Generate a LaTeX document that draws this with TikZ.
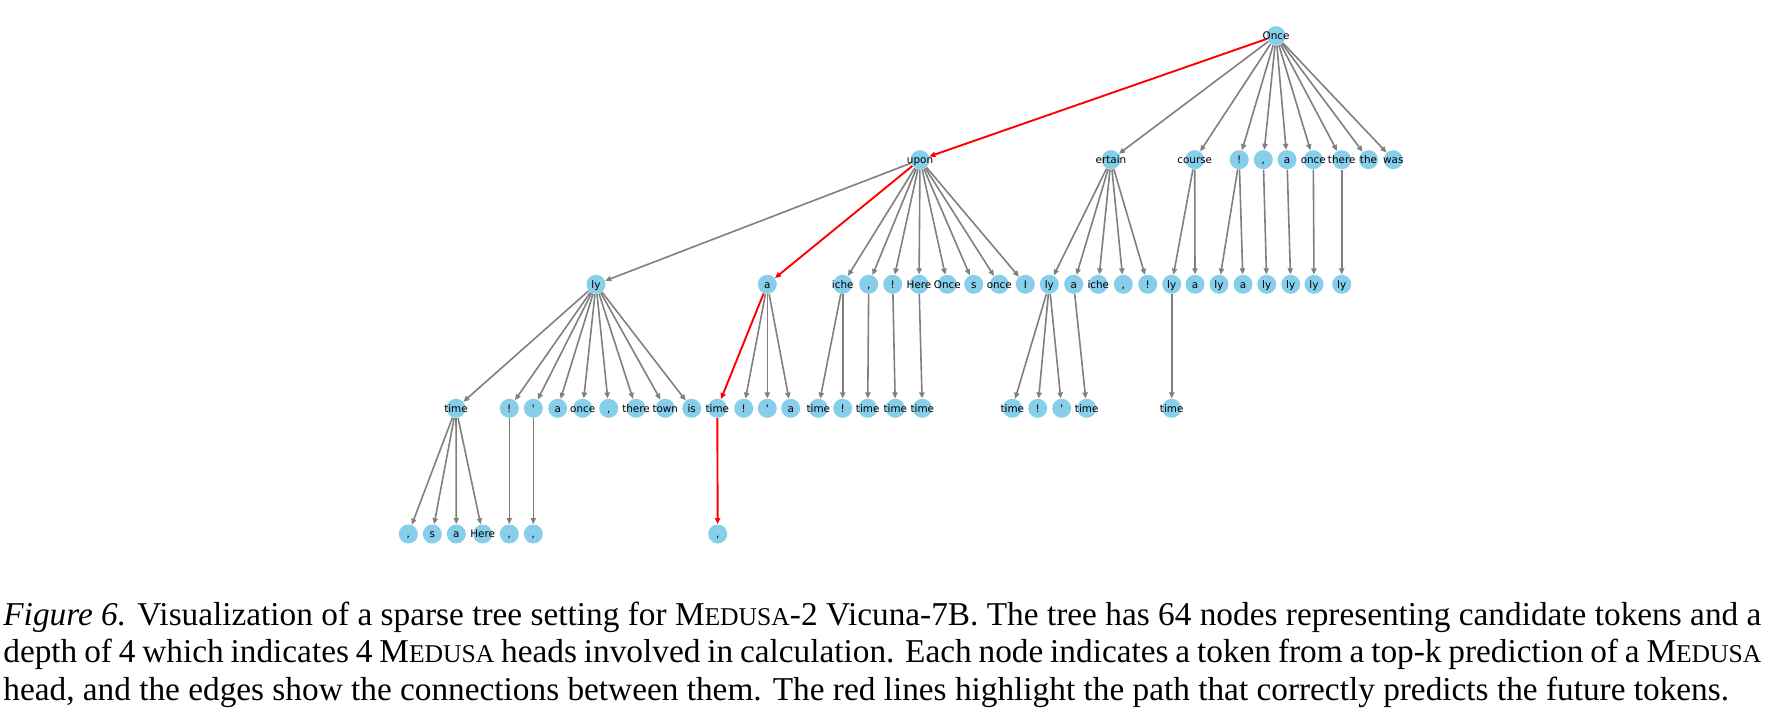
\documentclass[tikz,border=0pt]{standalone}
\usepackage{fontspec}
\setmainfont{Liberation Serif}
\newfontfamily\dv[Ligatures=TeXOff]{DejaVu Sans}
\usetikzlibrary{arrows.meta}
\definecolor{sky}{HTML}{87CEEB}
\definecolor{eg}{HTML}{808080}
\tikzset{
  tok/.style={circle,fill=sky,draw=none,minimum size=9.5pt,inner sep=0pt},
  lab/.style={font=\dv\fontsize{5.2}{6}\selectfont,inner sep=0pt,text height=3.9pt,text depth=0pt},
  conn/.style={draw=eg,line width=0.8pt,-{Triangle[length=3pt,width=2.6pt]}},
  hot/.style={conn,draw=red,line width=0.95pt},
  captxt/.style={anchor=base west,inner sep=0pt,font=\fontsize{16.65}{19}\selectfont}
}
\newcommand\medusa{M{\fontsize{12.8}{15}\selectfont EDUSA}}
\newcommand\toklist{%
\T{r}{1276}{35.7}{Once}%
\T{u1}{920}{159.7}{upon}%
\T{u2}{1111}{159.7}{ertain}%
\T{u3}{1194.7}{159.7}{course}%
\T{u4}{1239.2}{159.7}{!}%
\T{u5}{1263.3}{159.7}{,}%
\T{u6}{1287}{159.7}{a}%
\T{u7}{1313.3}{159.7}{once}%
\T{u8}{1341.7}{159.7}{there}%
\T{u9}{1368.5}{159.7}{the}%
\T{u10}{1393.3}{159.7}{was}%
\T{v1}{596}{284.3}{ly}%
\T{v2}{767.3}{284.3}{a}%
\T{v3}{842.7}{284.3}{iche}%
\T{v4}{868.7}{284.3}{,}%
\T{v5}{892.7}{284.3}{!}%
\T{v6}{919}{284.3}{Here}%
\T{v7}{947.3}{284.3}{Once}%
\T{v8}{973.7}{284.3}{s}%
\T{v9}{999.3}{284.3}{once}%
\T{v10}{1025.3}{284.3}{I}%
\T{v11}{1049.3}{284.3}{ly}%
\T{v12}{1073.7}{284.3}{a}%
\T{v13}{1098.3}{284.3}{iche}%
\T{v14}{1123.3}{284.3}{,}%
\T{v15}{1147.7}{284.3}{!}%
\T{v16}{1171.7}{284.3}{ly}%
\T{v17}{1195}{284.3}{a}%
\T{v18}{1219}{284.3}{ly}%
\T{v19}{1243}{284.3}{a}%
\T{v20}{1266.7}{284.3}{ly}%
\T{v21}{1290.7}{284.3}{ly}%
\T{v22}{1314}{284.3}{ly}%
\T{v23}{1341.7}{284.3}{ly}%
\T{w1}{456}{408.3}{time}%
\T{w2}{509.3}{408.3}{!}%
\T{w3}{533.3}{408.3}{'}%
\T{w4}{557.7}{408.3}{a}%
\T{w5}{582.7}{408.3}{once}%
\T{w6}{608.7}{408.3}{,}%
\T{w7}{636}{408.3}{there}%
\T{w8}{665.3}{408.3}{town}%
\T{w9}{691.7}{408.3}{is}%
\T{w10}{717.3}{408.3}{time}%
\T{w11}{743.7}{408.3}{!}%
\T{w12}{767.3}{408.3}{'}%
\T{w13}{790.7}{408.3}{a}%
\T{w14}{818.3}{408.3}{time}%
\T{w15}{842.7}{408.3}{!}%
\T{w16}{867.7}{408.3}{time}%
\T{w17}{895.3}{408.3}{time}%
\T{w18}{922.3}{408.3}{time}%
\T{w19}{1012.3}{408.3}{time}%
\T{w20}{1037.7}{408.3}{!}%
\T{w21}{1061.7}{408.3}{'}%
\T{w22}{1086.7}{408.3}{time}%
\T{w23}{1171.7}{408.3}{time}%
\T{x1}{408.3}{534}{,}%
\T{x2}{432.3}{534}{s}%
\T{x3}{456.3}{534}{a}%
\T{x4}{482.7}{534}{Here}%
\T{x5}{509.3}{534}{,}%
\T{x6}{533.3}{534}{,}%
\T{x7}{717.7}{534}{,}%
}
\begin{document}
\begin{tikzpicture}[x=0.5pt,y=-0.5pt]
\fill[white] (0,0) rectangle (1776,715);
\useasboundingbox (0,0) rectangle (1776,715);
% circles
{\def\T#1#2#3#4{\node[tok] (#1) at (#2,#3) {};}\toklist}
% connectors
\foreach \p/\c in {r/u2,r/u3,r/u4,r/u5,r/u6,r/u7,r/u8,r/u9,r/u10,
  u1/v1,u1/v3,u1/v4,u1/v5,u1/v6,u1/v7,u1/v8,u1/v9,u1/v10,
  u2/v11,u2/v12,u2/v13,u2/v14,u2/v15,
  u3/v16,u3/v17,u4/v18,u4/v19,u5/v20,u6/v21,u7/v22,u8/v23,
  v1/w1,v1/w2,v1/w3,v1/w4,v1/w5,v1/w6,v1/w7,v1/w8,v1/w9,
  v2/w11,v2/w12,v2/w13,v3/w14,v3/w15,v4/w16,v5/w17,v6/w18,
  v11/w19,v11/w20,v11/w21,v12/w22,v16/w23,
  w1/x1,w1/x2,w1/x3,w1/x4,w2/x5,w3/x6}
  {\draw[conn] (\p) -- (\c);}
\foreach \p/\c in {r/u1,u1/v2,v2/w10,w10/x7}
  {\draw[hot] (\p) -- (\c);}
% labels
{\def\T#1#2#3#4{\node[lab] (#1-t) at (#1) {#4};}\toklist}
% caption
\node[captxt] (cap1) at (3,625) {\makebox[879pt][s]{\textit{Figure 6.} Visualization of a sparse tree setting for \medusa-2 Vicuna-7B. The tree has 64 nodes representing candidate tokens and a}};
\node[captxt] (cap2) at (3,662.7) {\makebox[879pt][s]{depth of 4 which indicates 4 \medusa{} heads involved in calculation. Each node indicates a token from a top-k prediction of a \medusa}};
\node[captxt] (cap3) at (3,700) {head, and the edges show the connections between them. The red lines highlight the path that correctly predicts the future tokens.};
\end{tikzpicture}
\end{document}
